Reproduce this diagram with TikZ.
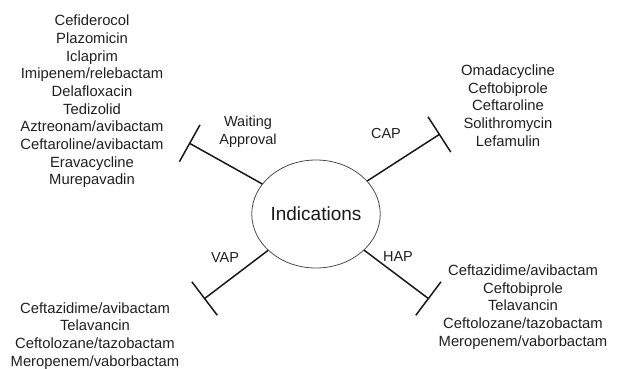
\documentclass[tikz,border=0pt]{standalone}
\usepackage{fontspec}
\setmainfont{Liberation Sans}
\usetikzlibrary{shapes.geometric,arrows.meta}
\tikzset{
  listtext/.style={align=center,inner sep=0pt,text=black!88,font=\fontsize{14.8}{17.7}\selectfont},
  labeltext/.style={align=center,inner sep=0pt,text=black!88,font=\fontsize{14.5}{17.7}\selectfont},
  hub/.style={ellipse,draw=black!70,line width=0.8pt,minimum width=124pt,minimum height=108pt,inner sep=0pt,font=\fontsize{19}{22}\selectfont,text=black!90},
  spoke/.style={draw=black!90,line width=1.5pt,-{Bar[width=42pt]}}
}
\begin{document}
\begin{tikzpicture}[x=1pt,y=-1pt]
\useasboundingbox (0,0) rectangle (619,369);
\node[hub] (ind) at (316,214) {Indications};
\coordinate (wend) at (189,143);
\coordinate (cend) at (440,134);
\coordinate (vend) at (204,299);
\coordinate (hend) at (429,299);
\draw[spoke] (ind) -- (wend);
\draw[spoke] (ind) -- (cend);
\draw[spoke] (ind) -- (vend);
\draw[spoke] (ind) -- (hend);
\node[labeltext] (wl) at (248,132) {Waiting\\Approval};
\node[labeltext] (cl) at (386,134) {CAP};
\node[labeltext] (vl) at (225,258) {VAP};
\node[labeltext] (hl) at (398,257) {HAP};
\node[listtext] (wlist) at (92,101.5) {Cefiderocol\\Plazomicin\\Iclaprim\\Imipenem/relebactam\\Delafloxacin\\Tedizolid\\Aztreonam/avibactam\\Ceftaroline/avibactam\\Eravacycline\\Murepavadin};
\node[listtext] (clist) at (508,105.5) {Omadacycline\\Ceftobiprole\\Ceftaroline\\Solithromycin\\Lefamulin};
\node[listtext] (vlist) at (95,336) {Ceftazidime/avibactam\\Telavancin\\Ceftolozane/tazobactam\\Meropenem/vaborbactam};
\node[listtext] (hlist) at (523,307) {Ceftazidime/avibactam\\Ceftobiprole\\Telavancin\\Ceftolozane/tazobactam\\Meropenem/vaborbactam};
\end{tikzpicture}
\end{document}
